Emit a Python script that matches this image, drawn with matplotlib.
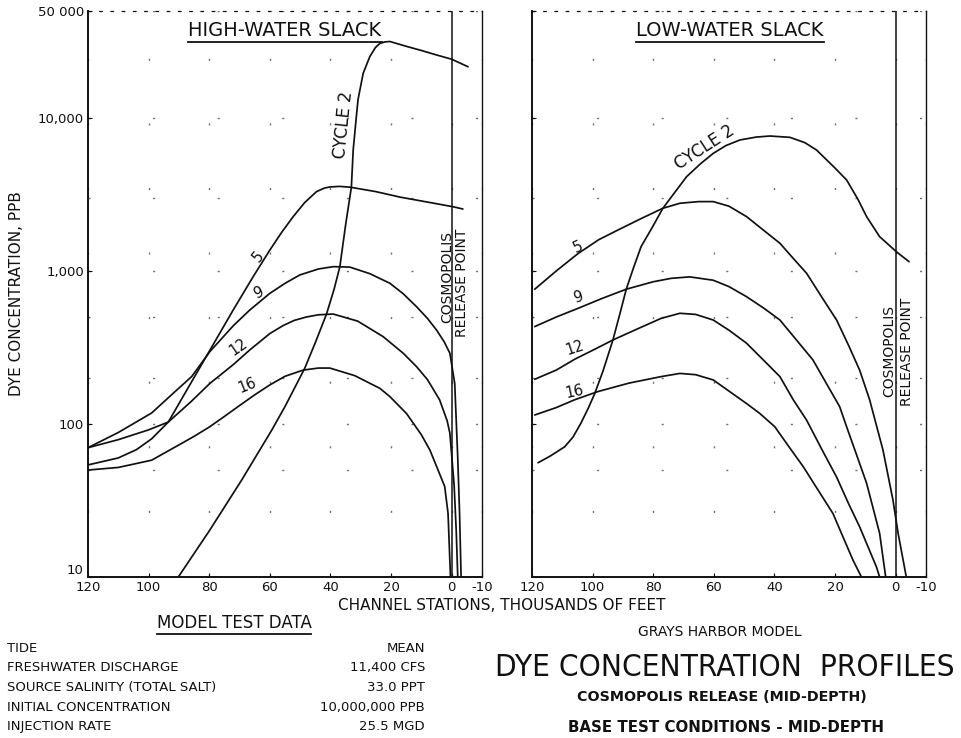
import matplotlib
matplotlib.use("Agg")
import matplotlib.pyplot as plt
from matplotlib.lines import Line2D

# channel stations (thousands of feet) and dye concentration (ppb)
# high-water slack
hw_c2_x = [90.2, 80, 69.3, 59.4, 55, 52.3, 48.5, 45, 41.3, 38.8, 36.9, 35, 33.1, 32.5,
           31.5, 30.9, 29.2, 27, 25.2, 23.7, 22, 20.4, 15, 10, 5, 0, -5.4]
hw_c2_y = [10, 20, 43, 91, 130, 165, 231, 340, 523, 760, 1067, 2000, 3530, 6170,
           10000, 13200, 19600, 25200, 28800, 30700, 31400, 31600, 29400, 27600, 25800,
           24200, 21600]

hw_5_x = [120, 110, 104, 99, 93.5, 86, 79.8, 72, 65.5, 60, 56, 52.3, 48.5, 44.6, 42,
          40.2, 37, 33.6, 25, 17.1, 8, -0.4, -3.7]
hw_5_y = [54, 60, 68, 80, 103, 186, 303, 560, 918, 1370, 1800, 2265, 2800, 3300, 3480,
          3540, 3570, 3530, 3300, 3040, 2820, 2630, 2540]

hw_9_x = [120, 110, 99, 92, 85.8, 79.8, 72, 66.6, 60, 55, 50.1, 44, 39.1, 33.6, 27, 20.4,
          16, 11.6, 8, 5, 2.5, 0.6, -1, -2, -2.6, -3.1]
hw_9_y = [70, 88, 118, 158, 204, 297, 440, 556, 714, 830, 942, 1030, 1067, 1060, 960, 831,
          710, 584, 490, 411, 345, 290, 184, 60, 26, 10]

hw_12_x = [120, 110, 100.1, 93.5, 86, 79.8, 72, 66.6, 60, 55.6, 52, 48, 44, 39.1, 31,
           22.6, 16, 11.6, 8, 4, 1.5, 0.6, -0.8, -1.5, -2]
hw_12_y = [70, 79, 91.4, 103, 140, 184, 245, 305, 390, 440, 475, 500, 517, 523, 470,
           372, 290, 237, 195, 144, 105, 87, 40, 20, 10]

hw_16_x = [120, 110, 99, 90, 85, 79.8, 75, 70, 65, 60, 55, 49, 44, 40.2, 32, 23.7, 20.4,
           14.9, 10, 7.2, 4.5, 2.3, 1.2, 0.4]
hw_16_y = [50, 52, 58, 73, 83, 96, 112, 132, 155, 180, 205, 225, 232, 232, 207, 171, 151,
           117, 85, 67.6, 50, 39, 26, 10]

# low-water slack
lw_c2_x = [118, 114, 109.2, 106.5, 104, 101.5, 99.3, 96.5, 93.3, 91, 88.9, 86.5, 84,
           80.5, 76.8, 73, 69, 64.5, 60.2, 56, 51.4, 46, 41.5, 34.9, 30, 26.1, 20, 16.2,
           12.5, 9.6, 5.3, -0.2, -4.4]
lw_c2_y = [55.8, 61.7, 71, 82, 100, 126, 158, 224, 354, 525, 760, 1050, 1443, 1900,
           2570, 3240, 4130, 5000, 5870, 6600, 7180, 7500, 7620, 7470, 6900, 6170, 4700,
           3935, 2950, 2265, 1675, 1337, 1150]

lw_5_x = [119.1, 112, 104.8, 98, 91.6, 84, 76.8, 71.2, 65, 60.2, 55, 49.2, 43.5, 38.2,
          33.5, 29.4, 24.5, 19.5, 15.5, 11.9, 8.6, 4.2, 0.9, -0.8, -3.5]
lw_5_y = [760, 1000, 1300, 1600, 1854, 2200, 2570, 2770, 2840, 2840, 2650, 2265, 1840,
          1517, 1190, 966, 680, 478, 325, 225, 144, 67.6, 31.8, 19.3, 10]

lw_9_x = [119.1, 112, 104.8, 97, 88.9, 80, 74.1, 68, 60.2, 55, 49.2, 43.5, 38.2, 33, 27.3,
          22.8, 18.5, 16.2, 12.8, 9.6, 7.5, 5.3, 3.3]
lw_9_y = [433, 500, 570, 660, 760, 850, 895, 915, 870, 790, 679, 571, 478, 359, 262,
          183, 130, 96, 62, 41, 28.4, 19.3, 10]

lw_12_x = [119.1, 112, 105.9, 99, 93.3, 85, 77.4, 71.2, 66, 60.2, 55, 49.2, 43.5, 38.2,
           33.8, 29.4, 24.5, 19.5, 15.5, 11.9, 8.5, 6.4, 5.3]
lw_12_y = [196, 225, 265, 310, 354, 420, 490, 529, 520, 478, 410, 337, 260, 204,
           144, 106, 69, 45, 30, 21.3, 14.7, 11.7, 10]

lw_16_x = [119.1, 112, 105.9, 98.2, 88, 77.4, 71.2, 66, 60.2, 55, 49.2, 44.8, 39.9, 35,
           30.5, 25.5, 20.7, 17.4, 14.1, 11.3]
lw_16_y = [114.5, 128, 144, 163, 185, 204, 214, 210, 194, 164, 136, 117, 96, 70,
           52.6, 36.7, 26, 18.3, 12.9, 10]

x_ticks = [120, 100, 80, 60, 40, 20, 0, -10]
x_tick_labels = ["120", "100", "80", "60", "40", "20", "0", "-10"]
y_ticks = [10, 100, 1000, 10000, 50000]
y_tick_labels = ["10", "100", "1,000", "10,000", "50 000"]
y_grid = [50, 200, 500, 3000]

table_rows = ["TIDE", "FRESHWATER DISCHARGE", "SOURCE SALINITY (TOTAL SALT)",
              "INITIAL CONCENTRATION", "INJECTION RATE"]
table_vals = ["MEAN", "11,400 CFS", "33.0 PPT", "10,000,000 PPB", "25.5 MGD"]

W, H = 961, 738
fig = plt.figure(figsize=(W / 100, H / 100), dpi=100)
ax1 = fig.add_axes([88 / W, 1 - 577 / H, 394 / W, 566 / H])
ax2 = fig.add_axes([532 / W, 1 - 577 / H, 394 / W, 566 / H])

ink = "#111111"
for ax in (ax1, ax2):
    ax.set_yscale("log")
    ax.set_xlim(120, -10)
    ax.set_ylim(10, 50000)
    ax.set_xticks(x_ticks)
    ax.set_xticklabels(x_tick_labels, fontsize=9.5, color=ink)
    ax.set_yticks(y_ticks)
    ax.set_yticks(y_grid, minor=True)
    ax.tick_params(axis="both", which="major", direction="in", length=3, width=0.8,
                   pad=3, colors=ink)
    ax.tick_params(axis="y", which="minor", length=0)
    ax.grid(True, which="both", color=ink, linestyle=(0, (1.5, 45)), linewidth=1.0,
            alpha=0.6)
    for side in ("left", "bottom", "right"):
        ax.spines[side].set_color(ink)
    ax.spines["left"].set_linewidth(1.4)
    ax.spines["bottom"].set_linewidth(1.4)
    ax.spines["right"].set_linewidth(1.0)
    ax.spines["top"].set_linestyle((0, (2, 7)))
    ax.spines["top"].set_linewidth(0.9)
    ax.spines["top"].set_color(ink)
    ax.axvline(0, color=ink, lw=1.1)

ax1.set_yticklabels(y_tick_labels, fontsize=9.5, color=ink)
ax1.get_yticklabels()[0].set_verticalalignment("bottom")
ax2.tick_params(axis="y", which="major", labelleft=False)

curve_kw = dict(color=ink, lw=1.25, solid_capstyle="round", solid_joinstyle="round")
for x, y in [(hw_c2_x, hw_c2_y), (hw_5_x, hw_5_y), (hw_9_x, hw_9_y),
             (hw_12_x, hw_12_y), (hw_16_x, hw_16_y)]:
    ax1.plot(x, y, **curve_kw)
for x, y in [(lw_c2_x, lw_c2_y), (lw_5_x, lw_5_y), (lw_9_x, lw_9_y),
             (lw_12_x, lw_12_y), (lw_16_x, lw_16_y)]:
    ax2.plot(x, y, **curve_kw)

# cycle labels on the curves
lab = dict(color=ink, ha="center", va="center", fontsize=10.5)
ax1.text(35.6, 9000, "CYCLE 2", rotation=84, fontsize=12, color=ink, ha="center",
         va="center")
ax1.text(63.9, 1235, "5", rotation=50, **lab)
ax1.text(63.9, 718, "9", rotation=25, **lab)
ax1.text(70.5, 318, "12", rotation=35, **lab)
ax1.text(67.5, 178, "16", rotation=22, **lab)

ax2.text(63, 6450, "CYCLE 2", rotation=33, fontsize=12, color=ink, ha="center",
         va="center")
ax2.text(104.8, 1435, "5", rotation=25, **lab)
ax2.text(104.8, 676, "9", rotation=18, **lab)
ax2.text(105.8, 314, "12", rotation=18, **lab)
ax2.text(105.8, 162, "16", rotation=12, **lab)

rel = dict(color=ink, ha="center", va="center", rotation=90, fontsize=10)
ax1.text(1.6, 915, "COSMOPOLIS", **rel)
ax1.text(-3.3, 832, "RELEASE POINT", **rel)
ax2.text(2.0, 300, "COSMOPOLIS", **rel)
ax2.text(-3.6, 297, "RELEASE POINT", **rel)

t1 = ax1.text(0.5, 0.966, "HIGH-WATER SLACK", transform=ax1.transAxes, ha="center",
              va="center", fontsize=14, color=ink)
t2 = ax2.text(0.503, 0.966, "LOW-WATER SLACK", transform=ax2.transAxes, ha="center",
              va="center", fontsize=14, color=ink)

ax1.set_ylabel("DYE CONCENTRATION, PPB", fontsize=11, color=ink, labelpad=10)
fig.text(502 / W, 1 - 605 / H, "CHANNEL STATIONS, THOUSANDS OF FEET", ha="center",
         va="center", fontsize=11, color=ink)

# test data table
t3 = fig.text(234 / W, 1 - 623 / H, "MODEL TEST DATA", ha="center", va="center",
              fontsize=12, color=ink)
for i, (name, val) in enumerate(zip(table_rows, table_vals)):
    yy = 1 - (648 + i * 19.7) / H
    fig.text(7 / W, yy, name, ha="left", va="center", fontsize=9.5, color=ink)
    fig.text(425 / W, yy, val, ha="right", va="center", fontsize=9.5, color=ink)

fig.text(720 / W, 1 - 632 / H, "GRAYS HARBOR MODEL", ha="center", va="center",
         fontsize=10, color=ink)
big = fig.text(725 / W, 1 - 667 / H, "DYE CONCENTRATION  PROFILES", ha="center",
               va="center", fontsize=24, color=ink, fontstretch="condensed")
fig.text(722 / W, 1 - 697 / H, "COSMOPOLIS RELEASE (MID-DEPTH)", ha="center",
         va="center", fontsize=10.3, fontweight="bold", color=ink)
fig.text(726 / W, 1 - 727 / H, "BASE TEST CONDITIONS - MID-DEPTH", ha="center",
         va="center", fontsize=10.8, fontweight="bold", color=ink)

# fit the heading into its slot, then underline the titles
fig.canvas.draw()
renderer = fig.canvas.get_renderer()
bw = big.get_window_extent(renderer).width
if bw > 460:
    big.set_fontsize(24 * 460 / bw)
inv = fig.transFigure.inverted()
for t in (t1, t2, t3):
    bb = t.get_window_extent(renderer)
    (x0, y0), (x1, _) = inv.transform([[bb.x0, bb.y0], [bb.x1, bb.y1]])
    fig.add_artist(Line2D([x0, x1], [y0 - 2 / H, y0 - 2 / H], color=ink, lw=1.3,
                          transform=fig.transFigure))

fig.savefig("out.png", dpi=100, facecolor="white")
